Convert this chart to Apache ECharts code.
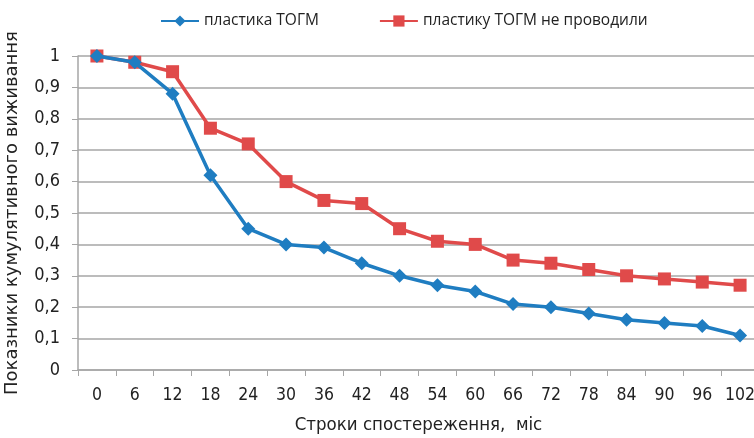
<!DOCTYPE html>
<html>
<head>
<meta charset="utf-8">
<script src="https://cdn.jsdelivr.net/npm/echarts@6/dist/echarts.min.js"></script>
<style>
  html, body { margin: 0; padding: 0; background: #fff; }
  #main { width: 754px; height: 438px; }
</style>
</head>
<body>
<div id="main"></div>
<script>
// months of follow-up
const months = ['0', '6', '12', '18', '24', '30', '36', '42', '48', '54', '60', '66', '72', '78', '84', '90', '96', '102'];
// cumulative survival, with TOGM plasty
const withPlasty = [1.0, 0.98, 0.88, 0.62, 0.45, 0.40, 0.39, 0.34, 0.30, 0.27, 0.25, 0.21, 0.20, 0.18, 0.16, 0.15, 0.14, 0.11];
// cumulative survival, without TOGM plasty
const withoutPlasty = [1.0, 0.98, 0.95, 0.77, 0.72, 0.60, 0.54, 0.53, 0.45, 0.41, 0.40, 0.35, 0.34, 0.32, 0.30, 0.29, 0.28, 0.27];

const font = 'DejaVu Sans Condensed';
const chart = echarts.init(document.getElementById('main'));

const option = {
  animation: false,
  legend: {
    top: 8,
    left: 155,
    itemGap: 60,
    itemWidth: 38,
    itemHeight: 14,
    textStyle: { fontFamily: 'Open Sans', fontSize: 15.5, color: '#222' },
    data: ['пластика ТОГМ', 'пластику ТОГМ не проводили']
  },
  // the plot runs past the right edge in the reference, so no bounds clamping
  grid: { left: 78, top: 56, width: 681, height: 314, outerBoundsMode: 'none' },
  xAxis: {
    type: 'category',
    data: months,
    boundaryGap: true,
    name: 'Строки спостереження,  міс',
    nameLocation: 'middle',
    nameGap: 46,
    nameTextStyle: { fontFamily: font, fontSize: 18.5, color: '#222' },
    axisLine: { lineStyle: { color: '#a6a6a6', width: 1.5 } },
    axisTick: { show: true, interval: 0, length: 6, lineStyle: { color: '#a6a6a6' } },
    axisLabel: { interval: 0, fontFamily: font, fontSize: 17.5, color: '#222', margin: 16 }
  },
  yAxis: {
    type: 'value',
    min: 0,
    max: 1,
    interval: 0.1,
    name: 'Показники кумулятивного виживання',
    nameLocation: 'middle',
    nameGap: 57,
    nameTextStyle: { fontFamily: 'DejaVu Sans', fontSize: 18, color: '#222' },
    axisLine: { show: true, lineStyle: { color: '#a6a6a6', width: 1.5 } },
    axisTick: { show: true, length: 6, lineStyle: { color: '#a6a6a6' } },
    axisLabel: {
      fontFamily: font, fontSize: 18, color: '#222', margin: 18,
      formatter: (v) => String(Math.round(v * 10) / 10).replace('.', ',')
    },
    splitLine: { lineStyle: { color: '#a6a6a6', width: 1.5 } }
  },
  series: [
    {
      name: 'пластика ТОГМ',
      type: 'line',
      data: withPlasty,
      symbol: 'diamond',
      symbolSize: 14,
      color: '#1f7dc1',
      lineStyle: { width: 3.5 },
      z: 3
    },
    {
      name: 'пластику ТОГМ не проводили',
      type: 'line',
      data: withoutPlasty,
      symbol: 'rect',
      symbolSize: 13,
      color: '#e04a4a',
      lineStyle: { width: 3.5 },
      z: 2
    }
  ]
};

chart.setOption(option);
</script>
</body>
</html>
